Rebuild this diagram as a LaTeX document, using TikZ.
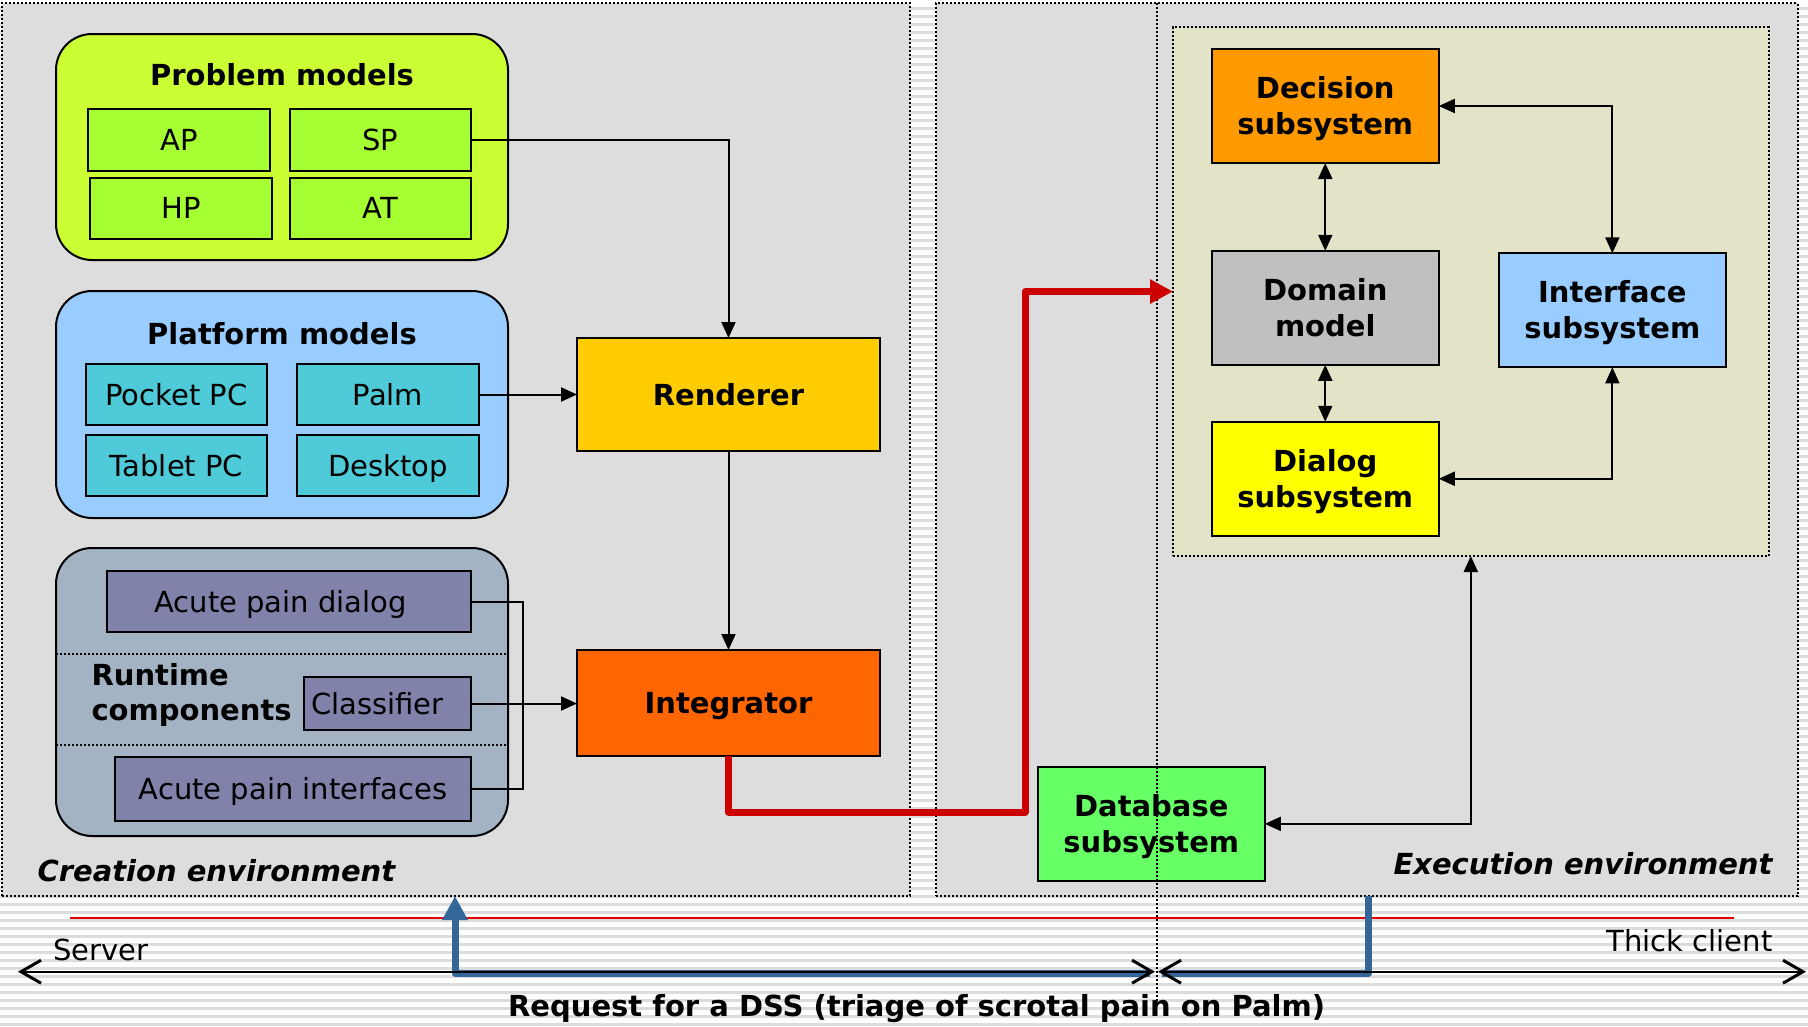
\documentclass[tikz,border=0pt]{standalone}
\usepackage{fontspec}
\setmainfont{DejaVu Sans}
\usetikzlibrary{arrows.meta}

\definecolor{stripecol}{RGB}{220,220,220}
\definecolor{panelgray}{RGB}{221,221,221}
\definecolor{beige}{RGB}{227,227,200}
\definecolor{pmfill}{RGB}{204,255,51}
\definecolor{pmbox}{RGB}{166,255,51}
\definecolor{platfill}{RGB}{153,204,255}
\definecolor{platbox}{RGB}{78,202,216}
\definecolor{rtfill}{RGB}{163,179,195}
\definecolor{rtbox}{RGB}{128,130,170}
\definecolor{rendcol}{RGB}{255,204,0}
\definecolor{integcol}{RGB}{255,102,0}
\definecolor{deccol}{RGB}{255,153,0}
\definecolor{domcol}{RGB}{192,192,192}
\definecolor{ifacecol}{RGB}{153,204,255}
\definecolor{dlgcol}{RGB}{255,255,0}
\definecolor{dbcol}{RGB}{102,255,102}
\definecolor{flowred}{RGB}{204,0,0}
\definecolor{hairred}{RGB}{230,0,0}
\definecolor{reqblue}{RGB}{51,102,153}

% struts that keep two-line labels centred on their cap height
\newcommand\hiStrut{\rule{0pt}{29pt}}
\newcommand\loStrut{\rule[-7.9pt]{0pt}{7.9pt}}

\tikzset{
  txt/.style={font=\fontsize{29}{36}\selectfont},
  btxt/.style={font=\fontsize{29}{36}\selectfont\bfseries},
  panel/.style={draw, fill=panelgray, line width=2pt, dash pattern=on 2pt off 2pt,
    inner sep=0pt, outer sep=0pt},
  group/.style={draw, line width=2pt, rounded corners=36pt, inner sep=0pt, outer sep=0pt},
  item/.style={draw, line width=2pt, inner sep=0pt, outer sep=0pt, txt,
    text height=21.1pt, text depth=0pt},
  unit/.style={draw, line width=2pt, inner sep=0pt, outer sep=0pt, btxt, align=center,
    minimum width=227pt, minimum height=114pt},
  stage/.style={draw, line width=2pt, inner sep=0pt, outer sep=0pt, btxt,
    minimum width=303pt, text height=21.1pt, text depth=0pt},
  sep/.style={line width=2pt, dash pattern=on 2pt off 2pt},
  tri/.tip={Triangle[length=16pt,width=14pt]},
  link/.style={line width=2pt, -tri},
  link2/.style={line width=2pt, tri-tri},
  barb/.tip={Straight Barb[length=20pt,width=23pt,line width=3pt]},
  axis/.style={line width=2pt, barb-barb},
  flow/.style={line width=7pt, flowred, line join=round,
    -{Triangle[length=23pt,width=23pt]}},
  req/.style={line width=7pt, reqblue, line join=round},
  divider/.style={line width=2pt, dash pattern=on 2pt off 2pt},
}

\begin{document}
\begin{tikzpicture}[x=1pt,y=-1pt]
\useasboundingbox (0,0) rectangle (1808,1026);

% striped backdrop
\foreach \k in {0,...,127}
  \fill[stripecol] (0,{7+8*\k}) rectangle (1808,{10+8*\k});

% environments
\node[panel, minimum width=908pt, minimum height=893pt] (creation) at (456,449.5) {};
\node[panel, minimum width=861.5pt, minimum height=893pt] (execution) at (1366.75,449.5) {};
\node[panel, fill=beige, minimum width=595.6pt, minimum height=529pt] (core) at (1470.8,291.5) {};

% problem models
\node[group, fill=pmfill, minimum width=452pt, minimum height=226pt] (problem) at (282,147) {};
\node[btxt] (problemtitle) at (282,75) {Problem models};
\node[item, fill=pmbox, minimum width=182pt, minimum height=62pt] (ap) at (179,140) {AP};
\node[item, fill=pmbox, minimum width=181pt, minimum height=62pt] (sp) at (380.5,140) {SP};
\node[item, fill=pmbox, minimum width=182pt, minimum height=61pt] (hp) at (181,208) {HP};
\node[item, fill=pmbox, minimum width=181pt, minimum height=61pt] (at) at (380.5,208) {AT};

% platform models
\node[group, fill=platfill, minimum width=452pt, minimum height=227pt] (platform) at (282,404.5) {};
\node[btxt] (platformtitle) at (282,334) {Platform models};
\node[item, fill=platbox, minimum width=181pt, minimum height=61pt] (pocket) at (176.5,394.5) {Pocket PC};
\node[item, fill=platbox, minimum width=181.5pt, minimum height=61pt] (palm) at (388,394.5) {Palm};
\node[item, fill=platbox, minimum width=181pt, minimum height=61pt] (tablet) at (176.5,465.5) {Tablet PC};
\node[item, fill=platbox, minimum width=181.5pt, minimum height=61pt] (desktop) at (388,465.5) {Desktop};

% runtime components
\node[group, fill=rtfill, minimum width=452pt, minimum height=288pt] (runtime) at (282,692) {};
\draw[sep] (runtime.west |- 0,654) -- (runtime.east |- 0,654);
\draw[sep] (runtime.west |- 0,745) -- (runtime.east |- 0,745);
\node[item, fill=rtbox, minimum width=364pt, minimum height=61pt] (apd) at (289,601.5) {\hspace*{-17pt}Acute pain dialog};
\node[item, fill=rtbox, minimum width=167pt, minimum height=53pt] (cls) at (387.5,703.5) {\hspace*{-20pt}Classifier};
\node[item, fill=rtbox, minimum width=356pt, minimum height=64pt] (api) at (293,789) {Acute pain interfaces};
\node[btxt, anchor=west, align=left, font=\fontsize{29}{35}\selectfont\bfseries] (rttitle) at (88,694.5) {Runtime\\components};

% creation pipeline
\node[stage, fill=rendcol, minimum height=113pt] (rend) at (728.5,394.5) {Renderer};
\node[stage, fill=integcol, minimum height=106pt] (integ) at (728.5,703) {Integrator};

\draw[link] (sp.east) -| (rend.north);
\draw[link] (palm.east) -- (rend.west);
\draw[link] (rend.south) -- (integ.north);
\draw[line width=2pt] (apd.east) -- ++(52,0) |- (api.east);
\draw[link] (cls.east) -- (cls.east -| integ.west);

% execution components
\node[unit, fill=deccol] (dec) at (1325.25,106) {\hiStrut Decision\\subsystem\loStrut};
\node[unit, fill=domcol] (dom) at (1325.25,307.8) {\hiStrut Domain\\model\loStrut};
\node[unit, fill=dlgcol] (dlg) at (1325.25,478.75) {\hiStrut Dialog\\subsystem\loStrut};
\node[unit, fill=ifacecol] (iface) at (1612.35,310.3) {\hiStrut Interface\\subsystem\loStrut};
\node[unit, fill=dbcol] (db) at (1151.3,823.85) {\hiStrut Database\\subsystem\loStrut};

\draw[link2] (dec.south) -- (dom.north);
\draw[link2] (dom.south) -- (dlg.north);
\draw[link2] (dec.east) -| (iface.north);
\draw[link2] (dlg.east) -| (iface.south);
\draw[link2] (db.east) -| (core.south);

% environment captions
\node[anchor=west, font=\fontsize{29}{36}\selectfont\bfseries\itshape] (creationlabel) at (34,871) {Creation environment};
\node[anchor=east, font=\fontsize{29}{36}\selectfont\bfseries\itshape] (executionlabel) at (1776,864) {Execution environment};

% server / client divide
\coordinate (divtop) at (1156.5,3);
\coordinate (divbot) at (1156.5,1002);
\draw[divider] (divtop) -- (divbot);

% deployment flow
\coordinate (rbend) at (1025,812);
\draw[flow] (integ.south) |- (rbend) |- (core.west);

% bottom scale
\coordinate (hairL) at (70,918);
\coordinate (hairR) at (1734,918);
\draw[hairred, line width=1.5pt] (hairL) -- (hairR);

\coordinate (reqL) at (455,973.5);
\coordinate (reqR) at (1368,973.5);
\coordinate (reqMidL) at (1150,973.5);
\coordinate (reqMidR) at (1162,973.5);
\draw[req, -{Triangle[length=24pt,width=24pt]}] (reqMidL) -- (reqL) -- (reqL |- creation.south);
\draw[req] (reqR |- execution.south) -- (reqR) -- (reqMidR);

\coordinate (srv) at (18,971.7);
\coordinate (midL) at (1155,971.7);
\coordinate (midR) at (1158,971.7);
\coordinate (cli) at (1806,971.7);
\draw[axis] (srv) -- (midL);
\draw[axis] (midR) -- (cli);

\node[txt, anchor=west] (server) at (50,950) {Server};
\node[txt, anchor=east] (client) at (1776,941) {Thick client};
\node[btxt] (request) at (916.6,1009) {Request for a DSS (triage of scrotal pain on Palm)};
\end{tikzpicture}
\end{document}
